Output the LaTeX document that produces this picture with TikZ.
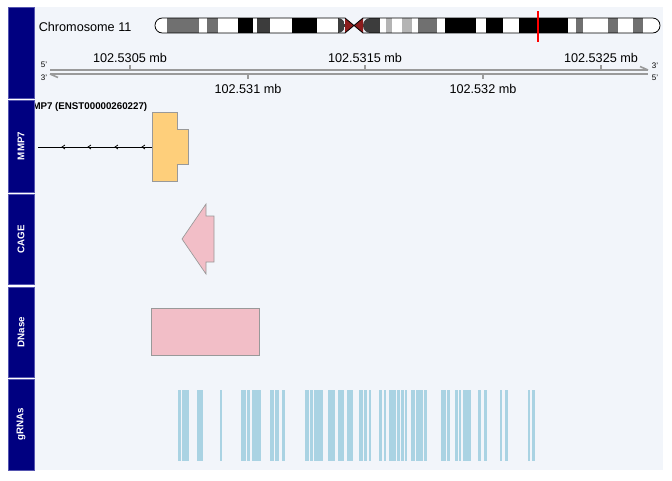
\documentclass[tikz,border=0pt]{standalone}
\usepackage{fontspec}
\setmainfont{Liberation Sans}
\definecolor{navy}{HTML}{000080}
\definecolor{navyedge}{HTML}{5555B0}
\definecolor{trackbg}{HTML}{F2F5FA}
\definecolor{genefill}{HTML}{FECF7B}
\definecolor{pinkfill}{HTML}{F2BEC7}
\definecolor{grnafill}{HTML}{A3D0E1}
\definecolor{axisgray}{HTML}{9A9A9A}
\definecolor{bandg}{HTML}{707070}
\definecolor{banddg}{HTML}{3C3C3C}
\definecolor{bandlg}{HTML}{B4B4B4}
\definecolor{cen}{HTML}{8B1C1C}
\tikzset{
  panel/.style={fill=navy, draw=navyedge, line width=0.6pt},
  paneltext/.style={text=white, font=\bfseries\fontsize{7.3}{8}\selectfont, rotate=90},
  axlabel/.style={font=\fontsize{9.5}{11}\selectfont, inner sep=0pt},
  endlabel/.style={font=\fontsize{6}{7}\selectfont, inner sep=0pt},
  axline/.style={draw=axisgray, line width=1.4pt},
  tick/.style={draw=axisgray, line width=0.9pt},
  featbox/.style={draw=gray!80, line width=0.5pt},
  grna/.style={fill=grnafill, draw=none, opacity=0.9}
}
\begin{document}
\begin{tikzpicture}[x=0.75pt,y=-0.75pt]
\useasboundingbox (0,0) rectangle (672,480);
% track background
\fill[trackbg] (34,7) rectangle (663,470);
% left panels
\node[panel, minimum width=19.5pt, minimum height=68.25pt, inner sep=0pt, anchor=north west] (ptitle) at (8,7) {};
\draw[panel] (8,100) rectangle (34,192);
\node[paneltext] (lmmp) at (21,146) {MMP7};
\draw[panel] (8,194.5) rectangle (34,284.5);
\node[paneltext] (lcage) at (21,239.5) {CAGE};
\draw[panel] (8,287) rectangle (34,377);
\node[paneltext] (ldnase) at (21,332) {DNase};
\draw[panel] (8,379.5) rectangle (34,470);
\node[paneltext] (lgrna) at (21,424.5) {gRNAs};
% chromosome
\node[axlabel, anchor=west] (chr) at (38.5,27) {Chromosome 11};
\begin{scope}
\clip[rounded corners=5.5pt] (155,18) rectangle (345,33);
\fill[white] (155,18) rectangle (345,33);
\foreach \a/\b/\c in {167/199/bandg,207/218/bandg,238/253/black,257/270/banddg,292/317/black,338/345/banddg}
  \fill[\c] (\a,18) rectangle (\b,33);
\end{scope}
\draw[black, line width=0.6pt, rounded corners=5.5pt] (345,18) -- (155,18) -- (155,33) -- (345,33);
\begin{scope}
\clip[rounded corners=5.5pt] (363,18) rectangle (660,33);
\fill[white] (363,18) rectangle (660,33);
\foreach \a/\b/\c in {363/380/banddg,386/392/bandlg,402/412/bandlg,418/437/bandg,445/476/black,486/503/black,519/568/black,576/583/bandg,608/618/bandg,633/643/bandg}
  \fill[\c] (\a,18) rectangle (\b,33);
\end{scope}
\draw[black, line width=0.6pt, rounded corners=5.5pt] (363,18) -- (660,18) -- (660,33) -- (363,33);
\fill[cen] (345,18) -- (354,25.5) -- (345,33) -- cycle;
\fill[cen] (363,18) -- (354,25.5) -- (363,33) -- cycle;
\draw[black, line width=0.6pt] (345,18) -- (354,25.5) -- (363,18) (345,33) -- (354,25.5) -- (363,33);
\draw[red, line width=0.9pt] (538,11) -- (538,42);
% axis
\coordinate (axL1) at (50,70);
\coordinate (axR1) at (648,70);
\coordinate (axL2) at (50,74);
\coordinate (axR2) at (648,74);
\draw[axline] (axL1) -- (axR1);
\draw[axline] (axL2) -- (axR2);
\draw[axisgray, line width=1.2pt] (axR1) -- ++(-8,-3.5);
\draw[axisgray, line width=1.2pt] (axL2) -- ++(8,3.5);
\node[endlabel] (l5a) at (44,65) {5'};
\node[endlabel] (l3a) at (44,77.5) {3'};
\node[endlabel] (r3a) at (655,66) {3'};
\node[endlabel] (r5a) at (655,77.5) {5'};
\foreach \x/\t/\n in {130/102.5305/ta,365/102.5315/tb,601/102.5325/tc}{
  \draw[tick] (\x,69) -- (\x,65);
  \node[axlabel] (\n) at (\x,57.5) {\t\ mb};
}
\foreach \x/\t/\n in {248/102.531/td,483/102.532/te}{
  \draw[tick] (\x,75) -- (\x,79);
  \node[axlabel] (\n) at (\x,89) {\t\ mb};
}
% MMP7 track
\begin{scope}
\clip (35.5,100) rectangle (663,192);
\node[anchor=east, inner sep=0pt, font=\bfseries\fontsize{7.3}{9}\selectfont] (gname) at (147.5,107) {MMP7 (ENST00000260227)};
\end{scope}
\coordinate (gs) at (38,147);
\coordinate (gL) at (152,147);
\draw[black, line width=0.6pt] (gs) -- (gL);
\foreach \x in {62,88,115,142}
  \draw[black, line width=0.6pt] (\x+3,145) -- (\x,147) -- (\x+3,149);
\draw[featbox, fill=genefill] (152,112) -- (177,112) -- (177,129) -- (188,129) -- (188,164) -- (177,164) -- (177,181) -- (152,181) -- cycle;
% CAGE
\draw[featbox, fill=pinkfill] (182,239) -- (206,204) -- (206,216) -- (214,216) -- (214,262) -- (206,262) -- (206,274) -- cycle;
% DNase
\draw[featbox, fill=pinkfill] (151,308) rectangle (259,355);
% gRNAs
\foreach \a/\b in {178/181,182/184.5,185/189,197/203,220/222,241/243.5,244/246,247/249.5,252/254.5,255/257.5,258/260.5,270/274,275/279,282/285,305/309,309.5/313,313.5/317.5,318/323,328/335,338/344,347/350,350/353,359/363,364/367,369/371,379/382,384/386,389/392,392/396,396.5/400,400.5/404,404.5/407,411/415,416/419.5,420/423,423.5/427,441/446,447/450,455/458,458.5/461,463/466.5,467/471,478/481,484/487,500/502,505/508,528/530,532/535}
  \fill[grna] (\a,390) rectangle (\b,461);
\end{tikzpicture}
\end{document}
